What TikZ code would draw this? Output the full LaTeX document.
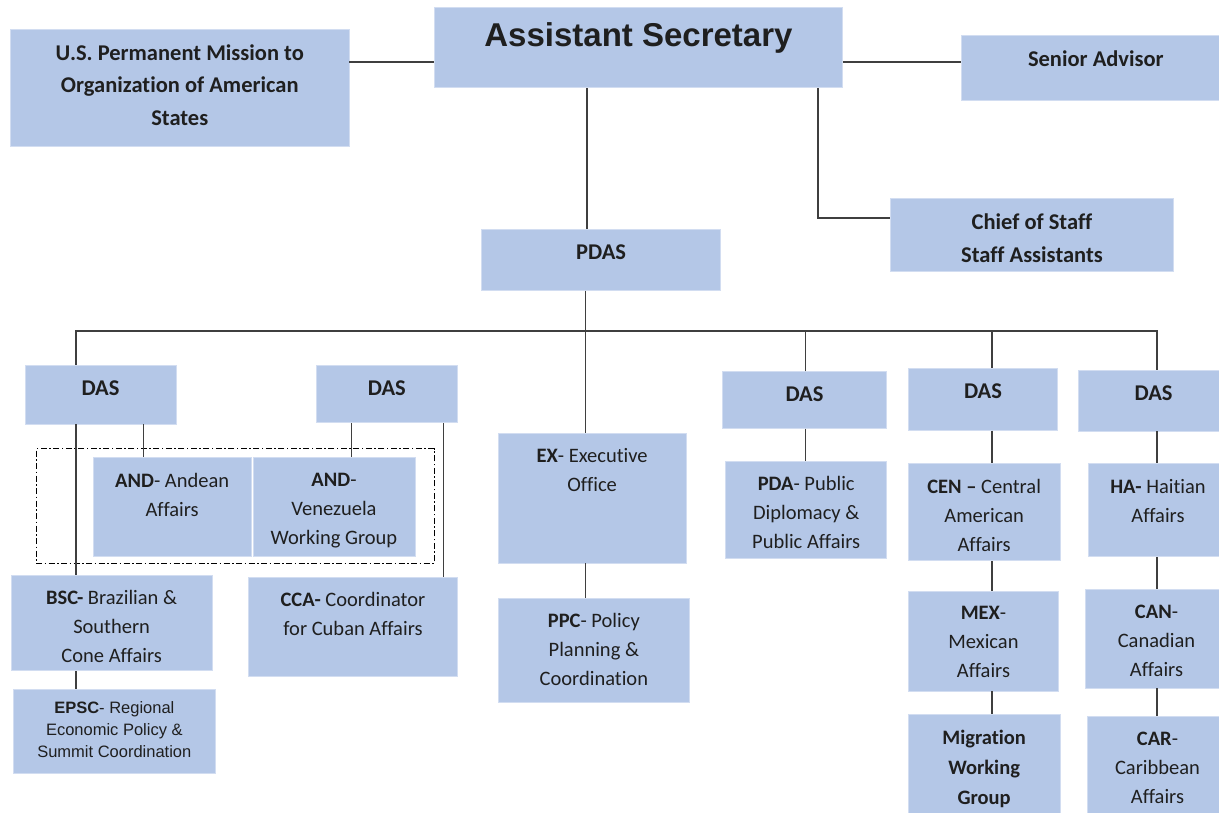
\documentclass[tikz,border=0pt]{standalone}
\usepackage{fontspec}
\setmainfont{Carlito}[Ligatures={TeX,NoCommon}]
\newfontfamily\arialfont{Liberation Sans}
\usetikzlibrary{positioning}
\definecolor{unitblue}{HTML}{B4C7E7}
\definecolor{linegrey}{HTML}{3F3F3F}
\begin{document}
\begin{tikzpicture}[x=1pt,y=-1pt,
  unit/.style={rectangle, fill=unitblue, draw=unitblue!60!white, line width=0.8pt, inner sep=0pt},
  hdtxt/.style={anchor=north, yshift=-15.5pt, inner sep=0pt, align=center, text=black!88, font=\fontsize{20.5}{29}\selectfont},
  hd/.style={label={[hdtxt]north:{#1}}},
  hdb/.style={label={[hdtxt,font=\fontsize{22.5}{32.5}\selectfont\bfseries]north:{#1}}},
  link/.style={draw=linegrey, line width=1.3pt},
  grp/.style={draw=black, line width=0.9pt, dash pattern=on 6pt off 2.5pt on 1.5pt off 2.5pt, inner sep=0pt}]
\useasboundingbox (0,0) rectangle (1219,813);

% top row
\node(as)[unit, minimum width=407.7pt, minimum height=80.4pt,
  label={[hdtxt, font=\arialfont\bfseries\fontsize{33}{38}\selectfont]north:{Assistant Secretary}}] at (638.5,47.5) {};
\node(uspm)[unit, minimum width=338.5pt, minimum height=117.4pt,
  hdb={U.S. Permanent Mission to\\Organization of American\\States}] at (179.75,88) {};
\node(senior)[unit, minimum width=268.3pt, minimum height=65.7pt, hdb={Senior Advisor}] at (1095.85,67.85) {};
\node(chief)[unit, minimum width=282.9pt, minimum height=73.4pt,
  label={[hdtxt,font=\fontsize{22.5}{33.3}\selectfont\bfseries]north:{Chief of Staff\\Staff Assistants}}] at (1031.95,235) {};
\node(pdas)[unit, minimum width=238.8pt, minimum height=61.3pt, hdb={PDAS}] at (601.1,259.65) {};

% DAS row
\node(das1)[unit, minimum width=151pt, minimum height=59pt, hdb={DAS}] at (100.5,394.5) {};
\node(das2)[unit, minimum width=141.7pt, minimum height=57.7pt, hdb={DAS}] at (386.85,393.85) {};
\node(das3)[unit, minimum width=164.4pt, minimum height=56.6pt, hdb={DAS}] at (804.5,400) {};
\node(das4)[unit, minimum width=149.4pt, minimum height=62pt, hdb={DAS}] at (983,399.3) {};
\node(das5)[unit, minimum width=150.7pt, minimum height=60.3pt, hdb={DAS}] at (1153.65,400.85) {};

% offices
\node(andgrp)[grp, minimum width=398pt, minimum height=114.6pt] at (235,506) {};
\node(and1)[unit, minimum width=158.3pt, minimum height=99pt, hd={\textbf{AND}- Andean\\Affairs}] at (172.15,507.2) {};
\node(and2)[unit, minimum width=162pt, minimum height=99pt, hd={\textbf{AND}-\\Venezuela\\Working Group}] at (334,507.2) {};
\node(bsc)[unit, minimum width=201.3pt, minimum height=95.7pt, hd={\textbf{BSC-} Brazilian \&\\Southern\\Cone Affairs}] at (111.65,622.85) {};
\node(epsc)[unit, minimum width=202.7pt, minimum height=84pt,
  label={[hdtxt, yshift=3pt, font=\arialfont\fontsize{16.5}{22}\selectfont]north:{\textbf{EPSC}- Regional\\Economic Policy \&\\Summit Coordination}}] at (114.35,731.3) {};
\node(cca)[unit, minimum width=209.4pt, minimum height=98.7pt, hd={\textbf{CCA-} Coordinator\\for Cuban Affairs}] at (353,626.65) {};
\node(ex)[unit, minimum width=188.3pt, minimum height=130pt, hd={\textbf{EX}- Executive\\Office}] at (592.15,498) {};
\node(ppc)[unit, minimum width=191.7pt, minimum height=104pt, hd={\textbf{PPC}- Policy\\Planning \&\\Coordination}] at (593.85,650.3) {};
\node(pda)[unit, minimum width=161pt, minimum height=97.4pt, hd={\textbf{PDA}- Public\\Diplomacy \&\\Public Affairs}] at (806.2,510) {};
\node(cen)[unit, minimum width=151.7pt, minimum height=97pt, hd={\textbf{CEN –} Central\\American\\Affairs}] at (984.15,512.2) {};
\node(mex)[unit, minimum width=150.4pt, minimum height=100pt, hd={\textbf{MEX}-\\Mexican\\Affairs}] at (983.5,641) {};
\node(mig)[unit, minimum width=151.7pt, minimum height=103.3pt,
  label={[hdtxt,font=\fontsize{20.5}{30}\selectfont\bfseries]north:{Migration\\Working\\Group}}] at (984.15,766.35) {};
\node(ha)[unit, minimum width=140pt, minimum height=93pt, hd={\textbf{HA-} Haitian\\Affairs}] at (1158,510.2) {};
\node(can)[unit, minimum width=143pt, minimum height=98.3pt, hd={\textbf{CAN}-\\Canadian\\Affairs}] at (1156.5,638.85) {};
\node(car)[unit, minimum width=141pt, minimum height=101.3pt, hd={\textbf{CAR}-\\Caribbean\\Affairs}] at (1157.5,767.35) {};

% where the lines run
\coordinate (toprow) at (0,62);
\coordinate (bus) at (600,331);
\coordinate (xbsc) at (76,0);
\coordinate (xand) at (143.5,0);
\coordinate (xven) at (351.7,0);
\coordinate (xcca) at (443.7,0);
\coordinate (xas) at (587,0);
\coordinate (xex) at (585.5,0);
\coordinate (xcos) at (818,0);
\coordinate (xpda) at (805.5,0);
\coordinate (xcen) at (992,0);
\coordinate (xha) at (1157,0);

\draw[link] (uspm.east |- toprow) -- (as.west |- toprow);
\draw[link] (as.east |- toprow) -- (senior.west |- toprow);
\draw[link] (as.south -| xas) -- (pdas.north -| xas);
\draw[link] (as.south -| xcos) |- ([yshift=17pt]chief.west);
\draw[link] (pdas.south -| xex) -- (ex.north -| xex);
\draw[link] (das1.north -| xbsc) |- (bus) -| (das5.north -| xha);
\draw[link] (das3.north -| xpda) -- (bus -| xpda);
\draw[link] (das4.north -| xcen) -- (bus -| xcen);
\draw[link] (das1.south -| xbsc) -- (bsc.north -| xbsc);
\draw[link] (bsc.south -| xbsc) -- (epsc.north -| xbsc);
\draw[link] (das1.south -| xand) -- (and1.north -| xand);
\draw[link] (das2.south -| xven) -- (and2.north -| xven);
\draw[link] (das2.south -| xcca) -- (cca.north -| xcca);
\draw[link] (ex.south -| xex) -- (ppc.north -| xex);
\draw[link] (das3.south -| xpda) -- (pda.north -| xpda);
\draw[link] (das4.south -| xcen) -- (cen.north -| xcen);
\draw[link] (cen.south -| xcen) -- (mex.north -| xcen);
\draw[link] (mex.south -| xcen) -- (mig.north -| xcen);
\draw[link] (das5.south -| xha) -- (ha.north -| xha);
\draw[link] (ha.south -| xha) -- (can.north -| xha);
\draw[link] (can.south -| xha) -- (car.north -| xha);
\end{tikzpicture}
\end{document}
